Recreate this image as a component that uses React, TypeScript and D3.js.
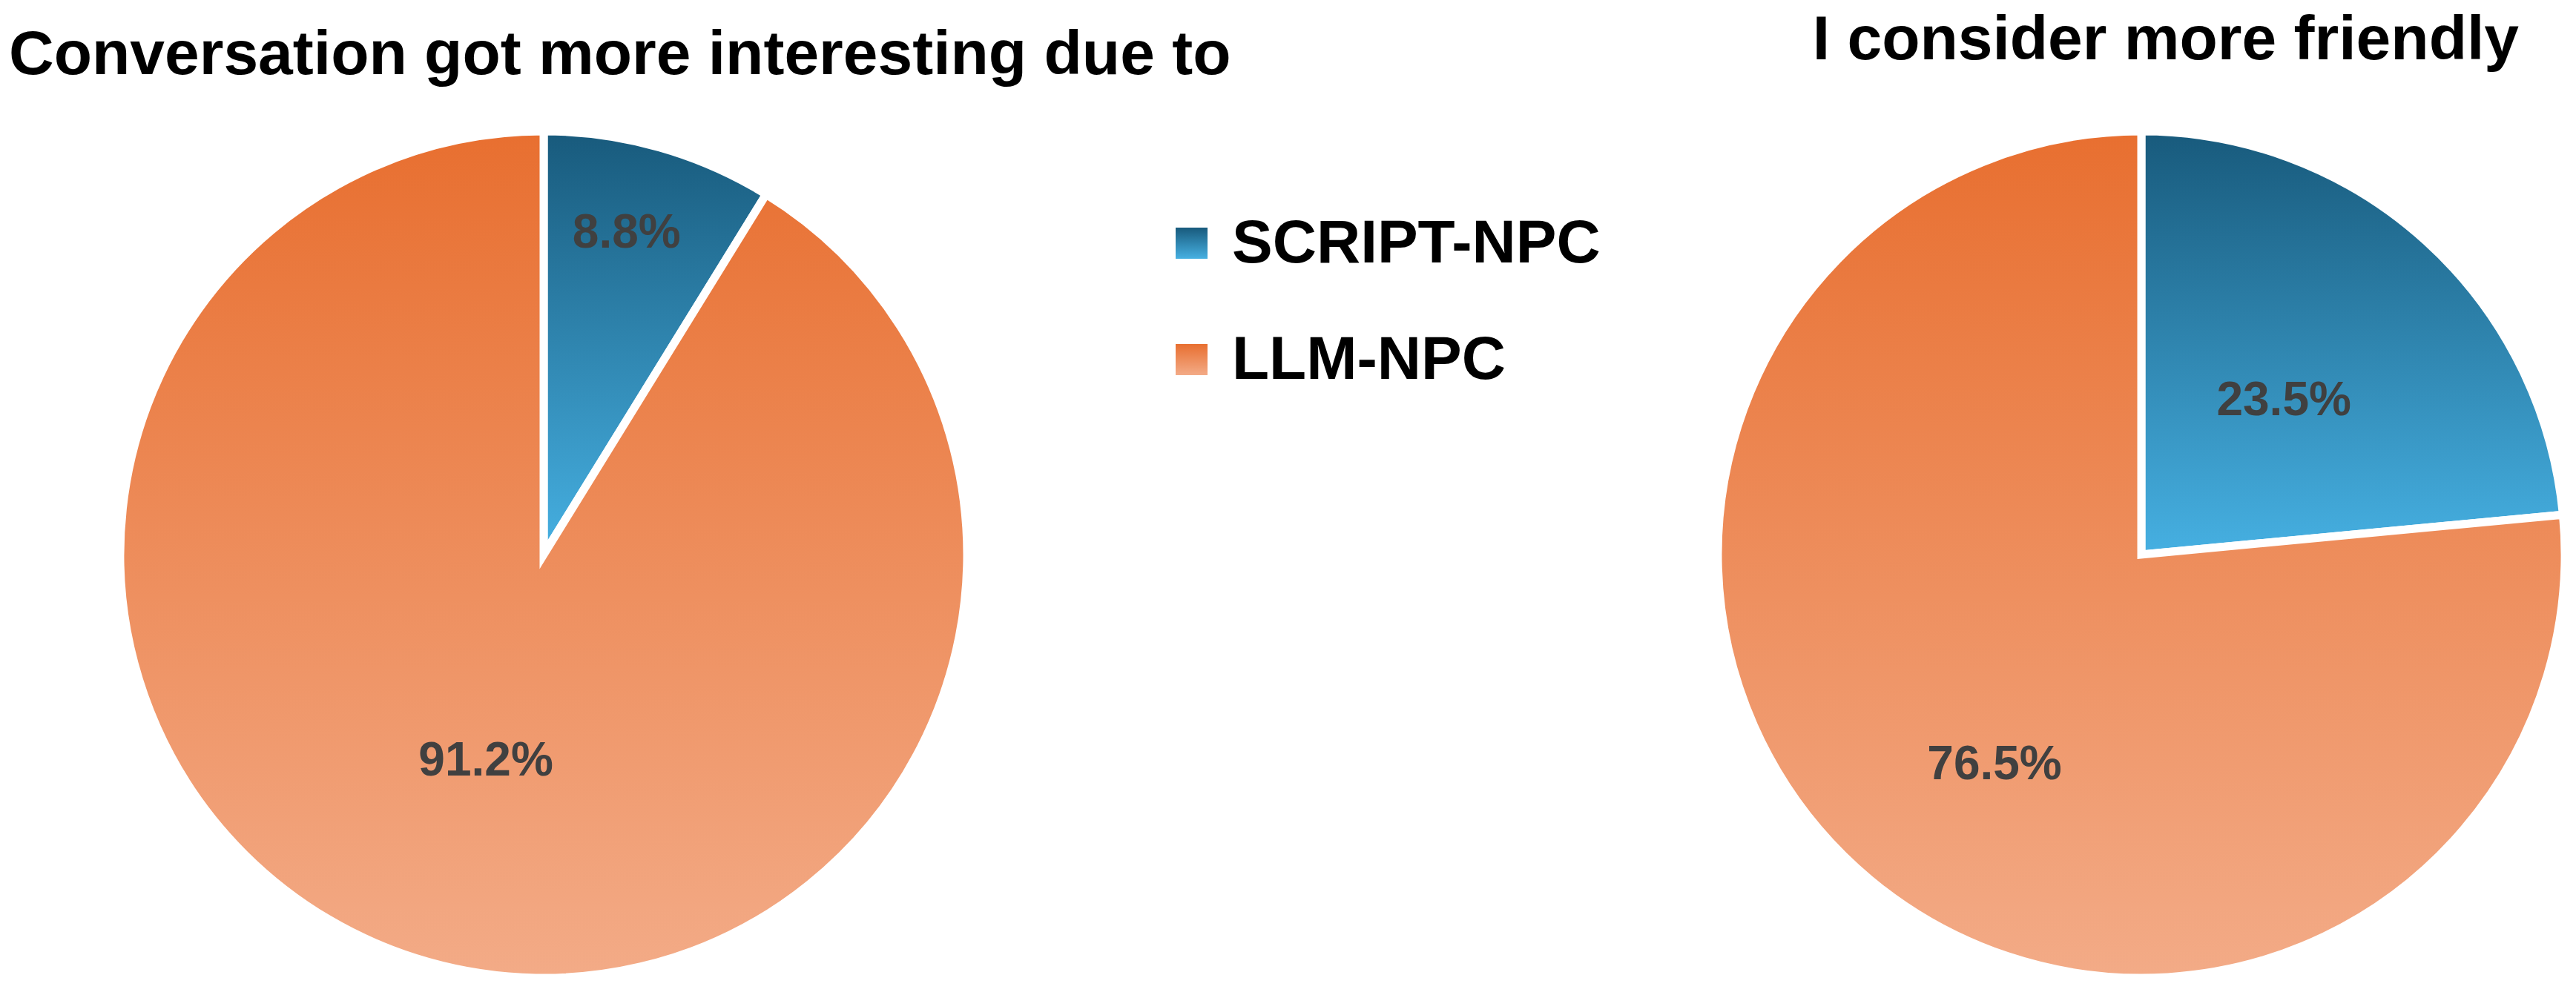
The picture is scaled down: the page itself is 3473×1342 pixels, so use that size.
import React from "react";
import * as d3 from "d3";

const seriesNames = ["SCRIPT-NPC", "LLM-NPC"];
const chartTitles = ["Conversation got more interesting due to", "I consider more friendly"];
const interestingValues = [8.8, 91.2];
const friendlyValues = [23.5, 76.5];

const W = 3473;
const H = 1342;
const R = 571;
const FONT = "'Liberation Sans', Arial, sans-serif";

const charts = [
  { title: chartTitles[0], values: interestingValues, cx: 733, cy: 748, titleX: 12, titleY: 100, titleAnchor: "start", labelR: [0.79, 0.5], labelRot: [-1.5, 0] },
  { title: chartTitles[1], values: friendlyValues, cx: 2887, cy: 748, titleX: 3396, titleY: 80, titleAnchor: "end", labelR: [0.5, 0.6], labelRot: [0, -7] },
];

const gradIds = ["gradBlue", "gradOrange"];

export default function App() {
  const pie = d3.pie<number>().sort(null).value((d) => d).startAngle(0).endAngle(2 * Math.PI);
  const arc = d3.arc<d3.PieArcDatum<number>>().innerRadius(0).outerRadius(R);
  const fmt = (v: number) => `${v.toFixed(1)}%`;

  return (
    <svg width={W} height={H} style={{ position: "absolute", left: 0, top: 0, background: "#fff" }} fontFamily={FONT}>
      <defs>
        <linearGradient id="gradBlue" x1="0" y1="0" x2="0" y2="1">
          <stop offset="0" stopColor="#185a7c" />
          <stop offset="1" stopColor="#46b0e2" />
        </linearGradient>
        <linearGradient id="gradOrange" x1="0" y1="0" x2="0" y2="1">
          <stop offset="0" stopColor="#e86f30" />
          <stop offset="1" stopColor="#f3ab87" />
        </linearGradient>
      </defs>
      <rect width={W} height={H} fill="#fff" />
      {charts.map((c, ci) => {
        const arcs = pie(c.values);
        return (
          <g key={ci}>
            <text x={c.titleX} y={c.titleY} fontSize={84} fontWeight="bold" fill="#000" textAnchor={c.titleAnchor as any}>
              {c.title}
            </text>
            <g transform={`translate(${c.cx},${c.cy})`}>
              {arcs.map((a, i) => (
                <path key={i} d={arc(a) || ""} fill={`url(#${gradIds[i]})`} stroke="#fff" strokeWidth={11} strokeLinejoin="miter" />
              ))}
              {arcs.map((a, i) => {
                const mid = (a.startAngle + a.endAngle) / 2 + (c.labelRot[i] * Math.PI) / 180;
                const rr = R * c.labelR[i];
                const x = rr * Math.sin(mid);
                const y = -rr * Math.cos(mid);
                return (
                  <text key={`l${i}`} x={x} y={y} dy="0.36em" textAnchor="middle" fontSize={64} fontWeight="bold" fill="#404040">
                    {fmt(a.data)}
                  </text>
                );
              })}
            </g>
          </g>
        );
      })}
      <g>
        {seriesNames.map((n, i) => (
          <g key={n} transform={`translate(1585,${307 + i * 157})`}>
            <rect width={43} height={42} fill={`url(#${gradIds[i]})`} />
            <text x={76} y={47} fontSize={82} fontWeight="bold" fill="#000">
              {n}
            </text>
          </g>
        ))}
      </g>
    </svg>
  );
}
